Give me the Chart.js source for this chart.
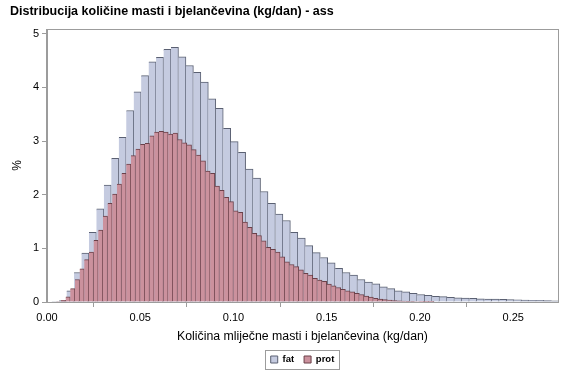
<!DOCTYPE html>
<html>
<head>
<meta charset="utf-8">
<script src="https://cdn.jsdelivr.net/npm/chart.js@4.4.1/dist/chart.umd.min.js"></script>
<style>
  html, body { margin: 0; padding: 0; background: #fff; }
  #wrap { width: 567px; height: 378px; }
</style>
</head>
<body>
<div id="wrap"><canvas id="histChart" width="567" height="378"></canvas></div>
<script>
// Sredine razreda (kg/dan) i postotak - mast, širina razreda 0.004
const fatMid = [0.0045, 0.0085, 0.0125, 0.0165, 0.0205, 0.0245, 0.0285, 0.0325, 0.0365, 0.0405,
  0.0445, 0.0485, 0.0525, 0.0565, 0.0605, 0.0645, 0.0685, 0.0725, 0.0765, 0.0805,
  0.0845, 0.0885, 0.0925, 0.0965, 0.1005, 0.1045, 0.1085, 0.1125, 0.1165, 0.1205,
  0.1245, 0.1285, 0.1325, 0.1365, 0.1405, 0.1445, 0.1485, 0.1525, 0.1565, 0.1605,
  0.1645, 0.1685, 0.1725, 0.1765, 0.1805, 0.1845, 0.1885, 0.1925, 0.1965, 0.2005,
  0.2045, 0.2085, 0.2125, 0.2165, 0.2205, 0.2245, 0.2285, 0.2325, 0.2365, 0.2405,
  0.2445, 0.2485, 0.2525, 0.2565, 0.2605, 0.2645, 0.2685, 0.2725];
const fatPct = [0.01, 0.025, 0.21, 0.55, 0.91, 1.30, 1.735, 2.18, 2.68, 3.07,
  3.57, 3.92, 4.22, 4.48, 4.56, 4.71, 4.75, 4.57, 4.41, 4.28,
  4.10, 3.79, 3.61, 3.24, 2.99, 2.79, 2.48, 2.31, 2.06, 1.84,
  1.64, 1.52, 1.30, 1.19, 1.05, 0.92, 0.83, 0.73, 0.63, 0.55,
  0.50, 0.42, 0.37, 0.34, 0.285, 0.25, 0.21, 0.19, 0.16, 0.14,
  0.125, 0.105, 0.10, 0.088, 0.08, 0.075, 0.07, 0.06, 0.055, 0.055,
  0.05, 0.045, 0.04, 0.035, 0.03, 0.03, 0.025, 0.02];

// Sredine razreda i postotak - bjelančevine, širina razreda 0.0025
const protMid = [0.00625, 0.00875, 0.01125, 0.01375, 0.01625, 0.01875, 0.02125, 0.02375, 0.02625, 0.02875,
  0.03125, 0.03375, 0.03625, 0.03875, 0.04125, 0.04375, 0.04625, 0.04875, 0.05125, 0.05375,
  0.05625, 0.05875, 0.06125, 0.06375, 0.06625, 0.06875, 0.07125, 0.07375, 0.07625, 0.07875,
  0.08125, 0.08375, 0.08625, 0.08875, 0.09125, 0.09375, 0.09625, 0.09875, 0.10125, 0.10375,
  0.10625, 0.10875, 0.11125, 0.11375, 0.11625, 0.11875, 0.12125, 0.12375, 0.12625, 0.12875,
  0.13125, 0.13375, 0.13625, 0.13875, 0.14125, 0.14375, 0.14625, 0.14875, 0.15125, 0.15375,
  0.15625, 0.15875, 0.16125, 0.16375, 0.16625, 0.16875, 0.17125, 0.17375, 0.17625, 0.17875,
  0.18125, 0.18375, 0.18625, 0.18875, 0.19125, 0.19375, 0.19625, 0.19875, 0.20125, 0.20375,
  0.20625];
const protPct = [0.01, 0.03, 0.095, 0.25, 0.42, 0.62, 0.79, 0.93, 1.15, 1.34,
  1.60, 1.84, 2.01, 2.20, 2.40, 2.57, 2.73, 2.85, 2.94, 2.96,
  3.10, 3.17, 3.18, 3.17, 3.13, 3.15, 3.03, 2.97, 2.93, 2.84,
  2.74, 2.63, 2.44, 2.40, 2.16, 2.08, 1.95, 1.87, 1.70, 1.67,
  1.49, 1.39, 1.28, 1.24, 1.14, 1.02, 0.98, 0.93, 0.84, 0.75,
  0.70, 0.66, 0.60, 0.535, 0.50, 0.44, 0.41, 0.385, 0.335, 0.30,
  0.27, 0.235, 0.21, 0.19, 0.16, 0.14, 0.11, 0.093, 0.07, 0.056,
  0.044, 0.037, 0.028, 0.022, 0.018, 0.014, 0.011, 0.009, 0.007, 0.005,
  0.004];

const xTicks = [0, 0.05, 0.10, 0.15, 0.20, 0.25];
const yTicks = [0, 1, 2, 3, 4, 5];

const FONT = '"Liberation Sans", Arial, sans-serif';
const GREY = '#9c9c9c';

// Okvir oko područja grafa i oko legende
const framePlugin = {
  id: 'frame',
  afterLayout(chart) {
    // legenda centrirana ispod područja grafa
    const lg = chart.legend;
    lg.left = chart.chartArea.left;
    lg.right = chart.chartArea.right;
    lg.width = lg.right - lg.left;
  },
  afterDraw(chart) {
    const { ctx, chartArea: a, legend } = chart;
    ctx.save();
    ctx.strokeStyle = GREY;
    ctx.lineWidth = 1;
    ctx.strokeRect(Math.round(a.left) - 0.5, Math.round(a.top) + 0.5,
      Math.round(a.right - a.left) + 1, Math.round(a.bottom - a.top));
    const hb = legend.legendHitBoxes;
    if (hb && hb.length) {
      const first = hb[0], last = hb[hb.length - 1];
      const l = Math.round(first.left - 6) + 0.5;
      const r = Math.round(last.left + last.width + 5) + 0.5;
      const t = Math.round(first.top - 5) + 0.5;
      const b = Math.round(first.top + first.height + 5) + 0.5;
      ctx.strokeRect(l, t, r - l, b - t);
    }
    ctx.restore();
  }
};

const barStyle = {
  barPercentage: 1,
  categoryPercentage: 1,
  grouped: false,
  borderSkipped: false,
  borderWidth: { top: 1, right: 1, left: 0, bottom: 0 }
};

new Chart(document.getElementById('histChart'), {
  type: 'bar',
  data: {
    datasets: [
      Object.assign({
        label: 'fat',
        data: fatMid.map((x, i) => ({ x, y: fatPct[i] })),
        xAxisID: 'x',
        backgroundColor: '#c5cbe0',
        borderColor: '#5a6072',
        order: 1
      }, barStyle),
      Object.assign({
        label: 'prot',
        data: protMid.map((x, i) => ({ x, y: protPct[i] })),
        xAxisID: 'x2',
        backgroundColor: '#cb919d',
        borderColor: '#6a4049',
        order: 0
      }, barStyle)
    ]
  },
  options: {
    responsive: false,
    animation: false,
    layout: { padding: { left: 10, right: 9, top: 0, bottom: 3.75 } },
    plugins: {
      title: {
        display: true,
        text: 'Distribucija količine masti i bjelančevina (kg/dan) - ass',
        align: 'start',
        color: '#000',
        font: { family: FONT, size: 12.5, weight: 'bold' },
        padding: { top: 4.5, bottom: 9.5 }
      },
      legend: {
        position: 'bottom',
        labels: {
          color: '#000',
          font: { family: FONT, size: 9.5, weight: 'bold' },
          boxWidth: 7,
          boxHeight: 7,
          padding: 10,
          sort: (a, b) => a.datasetIndex - b.datasetIndex,
          generateLabels(chart) {
            const items = Chart.defaults.plugins.legend.labels.generateLabels(chart);
            items.forEach(it => { it.lineWidth = 1; });
            return items;
          }
        }
      },
      tooltip: { enabled: false }
    },
    scales: {
      x: {
        type: 'linear',
        min: 0,
        max: 0.274,
        offset: false,
        afterBuildTicks: s => { s.ticks = xTicks.map(v => ({ value: v })); },
        afterFit: s => { s.height = 42.75; },
        ticks: {
          color: '#000',
          font: { family: FONT, size: 11 },
          padding: 4,
          maxRotation: 0,
          autoSkip: false,
          callback: v => v.toFixed(2)
        },
        grid: { drawOnChartArea: false, drawTicks: true, tickLength: 5, color: GREY },
        border: { display: true, color: GREY },
        title: {
          display: true,
          text: 'Količina mliječne masti i bjelančevina (kg/dan)',
          color: '#000',
          font: { family: FONT, size: 12.3 },
          padding: { top: 0, bottom: 1 }
        }
      },
      x2: {
        type: 'linear',
        min: 0,
        max: 0.274,
        offset: false,
        display: false
      },
      y: {
        min: 0,
        max: 5.09,
        afterBuildTicks: s => { s.ticks = yTicks.map(v => ({ value: v })); },
        afterFit: s => { s.width = 37; },
        ticks: { color: '#000', font: { family: FONT, size: 11 }, padding: 3 },
        grid: { drawOnChartArea: false, drawTicks: true, tickLength: 5, color: GREY },
        border: { display: true, color: GREY },
        title: {
          display: true,
          text: '%',
          color: '#000',
          font: { family: FONT, size: 12 },
          padding: 0
        }
      }
    }
  },
  plugins: [framePlugin]
});
</script>
</body>
</html>
